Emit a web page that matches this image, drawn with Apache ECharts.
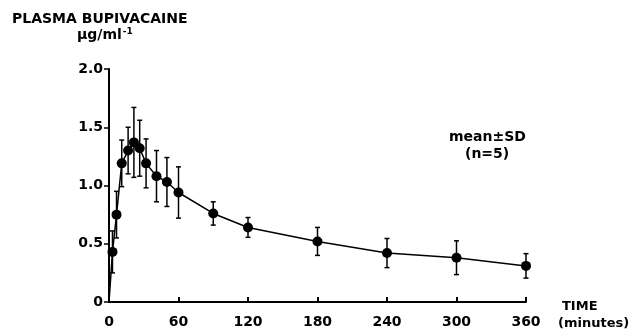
<!DOCTYPE html>
<html>
<head>
<meta charset="utf-8">
<script src="https://cdn.jsdelivr.net/npm/echarts@6/dist/echarts.min.js"></script>
<style>
  html, body { margin: 0; padding: 0; background: #fff; }
  #chart { width: 642px; height: 329px; }
</style>
</head>
<body>
<div id="chart"></div>
<script>
// time after injection (minutes), plasma level mean and SD (µg/ml)
var times = [0, 3, 6.5, 11, 16.5, 21.5, 26.5, 32, 41, 50, 60, 90, 120, 180, 240, 300, 360];
var means = [0, 0.43, 0.75, 1.19, 1.30, 1.37, 1.32, 1.19, 1.08, 1.03, 0.94, 0.76, 0.64, 0.52, 0.42, 0.38, 0.31];
var sds = [0, 0.18, 0.2, 0.2, 0.2, 0.3, 0.24, 0.21, 0.22, 0.21, 0.22, 0.1, 0.085, 0.12, 0.125, 0.145, 0.105];

var font = "DejaVu Sans";

var lineData = times.map(function (t, i) {
  var item = { value: [t, means[i]] };
  if (sds[i] === 0) item.symbol = "none";
  return item;
});
var barData = [];
times.forEach(function (t, i) {
  if (sds[i] > 0) barData.push([t, means[i] - sds[i], means[i] + sds[i]]);
});

var chart = echarts.init(document.getElementById("chart"));
chart.setOption({
  animation: false,
  backgroundColor: "#fff",
  grid: { left: 109, right: 116, top: 69, bottom: 24 },
  xAxis: {
    type: "value",
    min: 0,
    max: 360,
    interval: 60,
    splitLine: { show: false },
    axisLine: { lineStyle: { color: "#000", width: 2 } },
    axisTick: { inside: true, length: 5, lineStyle: { color: "#000", width: 2 } },
    axisLabel: {
      margin: 13,
      color: "#000",
      fontFamily: font,
      fontWeight: "bold",
      fontSize: 14,
    },
  },
  yAxis: {
    type: "value",
    min: 0,
    max: 2,
    interval: 0.5,
    splitLine: { show: false },
    axisLine: { show: true, lineStyle: { color: "#000", width: 2 } },
    axisTick: { show: true, length: 5, lineStyle: { color: "#000", width: 1.5 } },
    axisLabel: {
      margin: 6,
      color: "#000",
      fontFamily: font,
      fontWeight: "bold",
      fontSize: 14,
      formatter: function (v) {
        return v === 0 ? "0" : v.toFixed(1);
      },
    },
  },
  graphic: [
    { type: "text", left: 12, top: 12, style: { text: "PLASMA BUPIVACAINE", font: "bold 14px " + font, fill: "#000" } },
    {
      type: "text", left: 77, top: 27,
      style: {
        text: "{a|μg/ml}{b|-1}",
        rich: {
          a: { font: "bold 14px " + font, fill: "#000" },
          b: { font: "bold 9px " + font, fill: "#000", verticalAlign: "top", padding: [0, 0, 8, 1] },
        },
      },
    },
    { type: "text", left: 449, top: 130, style: { text: "mean±SD", font: "bold 14px " + font, fill: "#000" } },
    { type: "text", left: 465, top: 147, style: { text: "(n=5)", font: "bold 14px " + font, fill: "#000" } },
    { type: "text", left: 562, top: 300, style: { text: "TIME", font: "bold 13px " + font, fill: "#000" } },
    { type: "text", left: 558, top: 317, style: { text: "(minutes)", font: "bold 13px " + font, fill: "#000" } },
  ],
  series: [
    {
      type: "custom",
      data: barData,
      encode: { x: 0, y: [1, 2] },
      renderItem: function (params, api) {
        var lo = api.coord([api.value(0), api.value(1)]);
        var hi = api.coord([api.value(0), api.value(2)]);
        var cap = 2.5;
        var st = { stroke: "#000", lineWidth: 1.5 };
        return {
          type: "group",
          children: [
            { type: "line", shape: { x1: lo[0], y1: lo[1], x2: hi[0], y2: hi[1] }, style: st },
            { type: "line", shape: { x1: lo[0] - cap, y1: lo[1], x2: lo[0] + cap, y2: lo[1] }, style: st },
            { type: "line", shape: { x1: hi[0] - cap, y1: hi[1], x2: hi[0] + cap, y2: hi[1] }, style: st },
          ],
        };
      },
      z: 1,
    },
    {
      type: "line",
      data: lineData,
      symbol: "circle",
      symbolSize: 10,
      itemStyle: { color: "#000" },
      lineStyle: { color: "#000", width: 1.5 },
      z: 2,
    },
  ],
});
</script>
</body>
</html>
